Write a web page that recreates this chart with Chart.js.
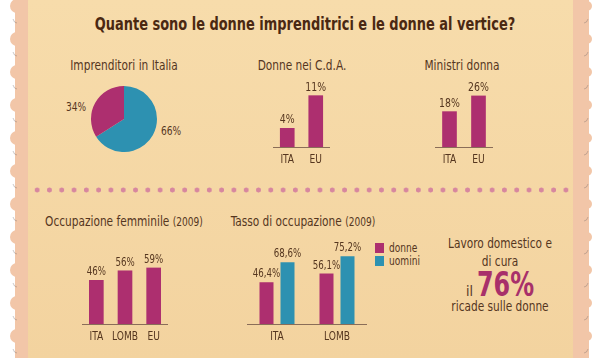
<!DOCTYPE html>
<html>
<head>
<meta charset="utf-8">
<script src="https://cdn.jsdelivr.net/npm/chart.js@4/dist/chart.umd.min.js"></script>
<style>
  body { margin: 0; width: 599px; height: 358px; overflow: hidden; background: #fff; position: relative;
         font-family: "DejaVu Sans Condensed", "DejaVu Sans", sans-serif; color: #55361f; }
  #deco { position: absolute; left: 0; top: 0; }
  #panel { position: absolute; left: 28px; top: 0; width: 545px; height: 358px;
           background: linear-gradient(#f7dcab, #f3d39f); }
  #dots { position: absolute; left: 31px; top: 184px; width: 538px; height: 12px;
          background: radial-gradient(circle, #d7879f 2.2px, transparent 2.8px) 0 0 / 12.3px 12px repeat-x; }
  .t { position: absolute; white-space: nowrap; transform: translate(-50%, -50%) scaleX(0.84); font-size: 14px; }
  .lg { position: absolute; white-space: nowrap; font-size: 12px; transform-origin: left center;
        transform: translate(0, -50%) scaleX(0.84); }
  canvas.c { position: absolute; }
  .sw { position: absolute; width: 9px; height: 10px; }
</style>
</head>
<body>
<canvas id="deco" width="599" height="358"></canvas>
<div id="panel"></div>
<div id="dots"></div>

<div class="t" style="left:305px;top:23px;font-size:18px;font-weight:bold;color:#4a2812;transform:translate(-50%,-50%) scaleX(0.8)">Quante sono le donne imprenditrici e le donne al vertice?</div>
<div class="t" style="left:124px;top:65px">Imprenditori in Italia</div>
<div class="t" style="left:302px;top:65px">Donne nei C.d.A.</div>
<div class="t" style="left:462px;top:65px">Ministri donna</div>
<div class="t" style="left:124px;top:221px">Occupazione femminile <span style="font-size:12px">(2009)</span></div>
<div class="t" style="left:303px;top:221px">Tasso di occupazione <span style="font-size:12px">(2009)</span></div>

<div class="t" id="pieA" style="left:76px;top:107px;font-size:12px"></div>
<div class="t" id="pieB" style="left:171px;top:131px;font-size:12px"></div>

<div class="sw" style="left:375px;top:243px;background:#ad2f6f"></div>
<div class="sw" style="left:375px;top:256px;background:#2d91b1"></div>
<div class="lg" style="left:389px;top:248px" id="lg0"></div>
<div class="lg" style="left:389px;top:261px" id="lg1"></div>

<div class="t" style="left:500px;top:243px">Lavoro domestico e</div>
<div class="t" style="left:500px;top:261px">di cura</div>
<div class="t" style="left:500px;top:284px;transform:translate(-50%,-50%)">il <span id="big" style="display:inline-block;font-size:34px;font-weight:bold;color:#a8306a;transform:scaleX(0.78);margin-left:-8px;margin-right:-8px"></span></div>
<div class="t" style="left:500px;top:306px">ricade sulle donne</div>

<canvas class="c" id="pie"></canvas>
<canvas class="c" id="cda"></canvas>
<canvas class="c" id="min"></canvas>
<canvas class="c" id="occ"></canvas>
<canvas class="c" id="tasso"></canvas>

<script>
const pieLabels = ['Imprenditori', 'Imprenditrici'];
const piePct = [66, 34];

const cdaCats = ['ITA', 'EU'];
const cdaDonne = [4, 11];

const minCats = ['ITA', 'EU'];
const minDonne = [18, 26];

const occCats = ['ITA', 'LOMB', 'EU'];
const occDonne = [46, 56, 59];

const tassoCats = ['ITA', 'LOMB'];
const tassoDonne = [46.4, 56.1];
const tassoUomini = [68.6, 75.2];
const seriesNames = ['donne', 'uomini'];

const lavoroDonne = 76;

const FONT = '"DejaVu Sans Condensed", "DejaVu Sans", sans-serif';
const MAGENTA = '#ad2f6f';
const TEAL = '#2d91b1';
const BROWN = '#55361f';

const pct = v => String(v).replace('.', ',') + '%';

// scalloped pink border on both sides
const d = document.getElementById('deco').getContext('2d');
d.fillStyle = '#f2c6a8';
d.fillRect(15, 0, 20, 358);
d.fillRect(566, 0, 23, 358);
for (let y = -10; y < 370; y += 33) {
  d.beginPath(); d.arc(17, y + 16, 7, Math.PI / 2, Math.PI * 1.5); d.fill();
  d.beginPath(); d.arc(587, y + 16, 5, -Math.PI / 2, Math.PI / 2); d.fill();
}
d.strokeStyle = 'rgba(110,100,100,0.35)';
d.lineWidth = 1;
for (let y = -10; y < 370; y += 33) {
  d.beginPath(); d.moveTo(13, y + 29); d.quadraticCurveTo(14, y + 33, 17, y + 33); d.stroke();
  d.beginPath(); d.moveTo(588, y + 29); d.quadraticCurveTo(587, y + 33, 584, y + 33); d.stroke();
}

document.getElementById('pieA').textContent = pct(piePct[1]);
document.getElementById('pieB').textContent = pct(piePct[0]);
document.getElementById('lg0').textContent = seriesNames[0];
document.getElementById('lg1').textContent = seriesNames[1];
document.getElementById('big').textContent = pct(lavoroDonne);

// pie
const pc = document.getElementById('pie');
pc.width = 66; pc.height = 66;
pc.style.left = '91px'; pc.style.top = '86px';
new Chart(pc, {
  type: 'pie',
  data: { labels: pieLabels, datasets: [{ data: piePct, backgroundColor: [TEAL, MAGENTA], borderWidth: 0 }] },
  options: { responsive: false, animation: false, plugins: { legend: { display: false }, tooltip: { enabled: false } } }
});

// narrow text, like the condensed face of the original
function narrowText(ctx, text, x, y, k) {
  ctx.save();
  ctx.translate(x, y);
  ctx.scale(k, 1);
  ctx.fillText(text, 0, 0);
  ctx.restore();
}

// category labels under the axis and values above the bars
const barText = {
  id: 'barText',
  afterDatasetsDraw(chart, args, opts) {
    const ctx = chart.ctx;
    const xs = chart.scales.x;
    ctx.save();
    ctx.fillStyle = BROWN;
    ctx.textAlign = 'center';
    ctx.textBaseline = 'middle';
    ctx.font = '13px ' + FONT;
    chart.data.labels.forEach((lab, i) => narrowText(ctx, lab, xs.getPixelForValue(i), chart.chartArea.bottom + 13, 0.78));
    ctx.textBaseline = 'bottom';
    ctx.font = opts.size + 'px ' + FONT;
    chart.data.datasets.forEach((ds, i) => {
      chart.getDatasetMeta(i).data.forEach((el, j) => narrowText(ctx, pct(ds.data[j]), el.x, el.y - 2, 0.8));
    });
    ctx.restore();
  }
};

function bars(id, box, cats, sets, yMax, labelSize, grouped) {
  const top = 20, bottom = 24;
  const c = document.getElementById(id);
  c.width = box.right - box.left;
  c.height = box.h + top + bottom;
  c.style.left = box.left + 'px';
  c.style.top = (box.base - box.h - top) + 'px';
  new Chart(c, {
    type: 'bar',
    data: {
      labels: cats,
      datasets: sets.map(s => grouped
        ? { label: s.label, data: s.data, backgroundColor: s.color, categoryPercentage: 0.7, barPercentage: 0.667 }
        : { label: s.label, data: s.data, backgroundColor: s.color, barThickness: 14 })
    },
    options: {
      responsive: false,
      animation: false,
      layout: { padding: { top: top, left: 0, right: 0, bottom: 0 } },
      plugins: { legend: { display: false }, tooltip: { enabled: false }, barText: { size: labelSize } },
      scales: {
        x: {
          grid: { display: false, drawTicks: false },
          border: { color: '#8a6d58', width: 1 },
          ticks: { display: false },
          afterFit: s => { s.height = bottom; }
        },
        y: { display: false, min: 0, max: yMax }
      }
    },
    plugins: [barText]
  });
}

bars('cda', { left: 273, right: 330, base: 147, h: 56 }, cdaCats,
  [{ label: seriesNames[0], data: cdaDonne, color: MAGENTA }], 12, 13);
bars('min', { left: 435, right: 493, base: 147, h: 55 }, minCats,
  [{ label: seriesNames[0], data: minDonne, color: MAGENTA }], 28, 13);
bars('occ', { left: 82, right: 168, base: 324, h: 57 }, occCats,
  [{ label: seriesNames[0], data: occDonne, color: MAGENTA }], 60, 12);
bars('tasso', { left: 247, right: 367, base: 324, h: 72 }, tassoCats,
  [{ label: seriesNames[0], data: tassoDonne, color: MAGENTA },
   { label: seriesNames[1], data: tassoUomini, color: TEAL }], 80, 12, true);
</script>
</body>
</html>
